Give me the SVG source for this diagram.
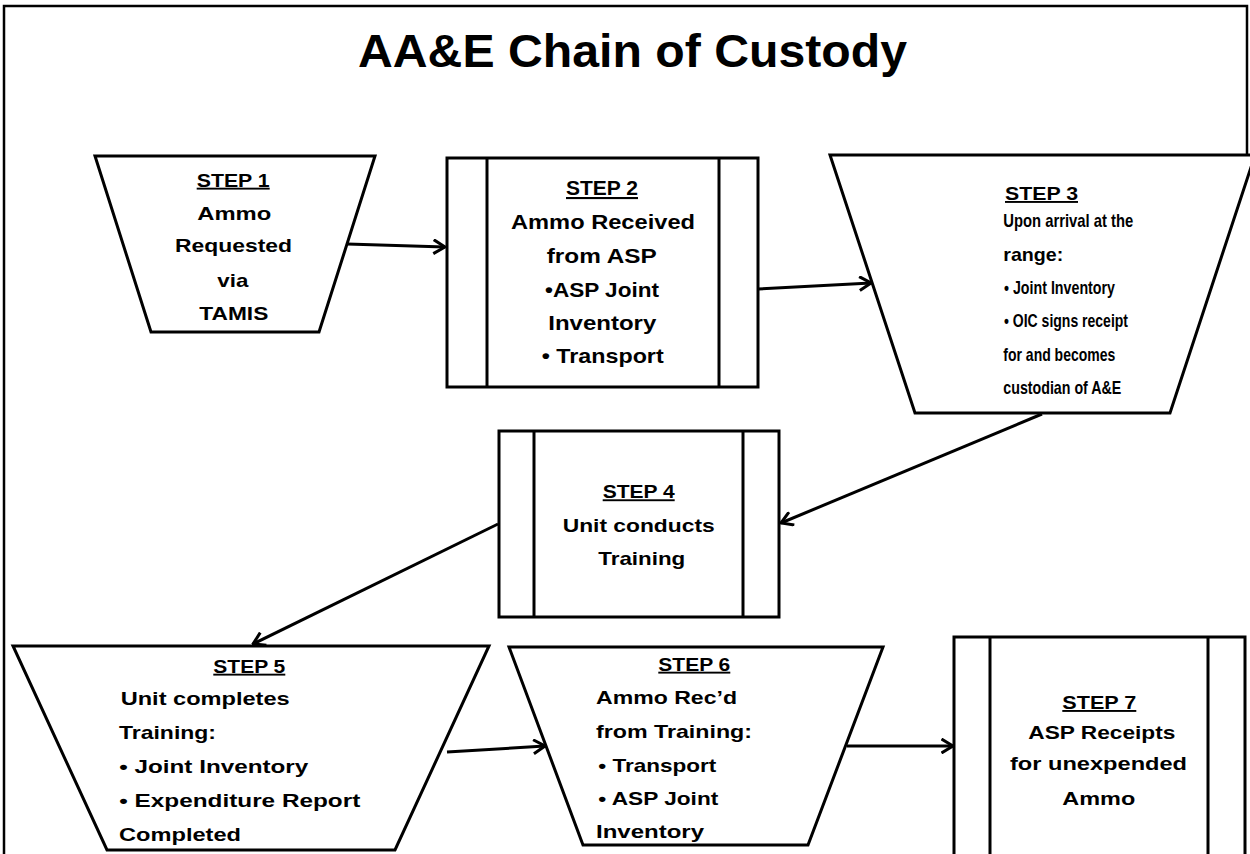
<svg xmlns="http://www.w3.org/2000/svg" width="1250" height="854" viewBox="0 0 1250 854">
<defs>
<style>
.shape{fill:#fff;stroke:#000;stroke-width:3;stroke-linejoin:miter}
.div{stroke:#000;stroke-width:3}
.conn{stroke:#000;stroke-width:3;fill:none}
.t{font-family:"Liberation Sans",Arial,sans-serif;font-weight:bold;font-size:19px;fill:#000}
.t2{font-size:21px}
.u{text-decoration:underline}
.title{font-family:"Liberation Sans",Arial,sans-serif;font-weight:bold;font-size:46px;fill:#000}
</style>
<marker id="arr" markerUnits="userSpaceOnUse" viewBox="0 0 14 16" refX="12.5" refY="8" markerWidth="14" markerHeight="16" orient="auto">
<path d="M1,1 L12.5,8 L1,15" fill="none" stroke="#000" stroke-width="3" stroke-linejoin="miter"/>
</marker>
</defs>
<rect width="1250" height="854" fill="#fff"/>
<path d="M4,860 V6 H1247 V155" fill="none" stroke="#000" stroke-width="2.5"/>
<text class="title" x="632.5" y="67" text-anchor="middle" textLength="549" lengthAdjust="spacingAndGlyphs">AA&amp;E Chain of Custody</text>

<g id="connectors">
<line class="conn" x1="347" y1="244" x2="445" y2="247" marker-end="url(#arr)"/>
<line class="conn" x1="758" y1="289" x2="871" y2="283" marker-end="url(#arr)"/>
<line class="conn" x1="1042" y1="414" x2="781" y2="523" marker-end="url(#arr)"/>
<line class="conn" x1="498" y1="524" x2="253" y2="644" marker-end="url(#arr)"/>
<line class="conn" x1="447" y1="752" x2="545" y2="746" marker-end="url(#arr)"/>
<line class="conn" x1="847" y1="746" x2="953" y2="746" marker-end="url(#arr)"/>
</g>

<g id="step1">
<polygon class="shape" points="95,156 375,156 319,332 151,332"/>
<text class="t u" x="196.7" y="186.7" textLength="73" lengthAdjust="spacingAndGlyphs">STEP 1</text>
<text class="t" x="197.3" y="220" textLength="74" lengthAdjust="spacingAndGlyphs">Ammo</text>
<text class="t" x="175" y="252.3" textLength="117" lengthAdjust="spacingAndGlyphs">Requested</text>
<text class="t" x="217.3" y="286.7" textLength="31" lengthAdjust="spacingAndGlyphs">via</text>
<text class="t" x="199.3" y="320" textLength="69" lengthAdjust="spacingAndGlyphs">TAMIS</text>
</g>

<g id="step2">
<rect class="shape" x="447" y="158" width="311" height="229"/>
<line class="div" x1="487" y1="158" x2="487" y2="387"/>
<line class="div" x1="719" y1="158" x2="719" y2="387"/>
<text class="t t2 u" x="566" y="195" textLength="72" lengthAdjust="spacingAndGlyphs">STEP 2</text>
<text class="t t2" x="511" y="229.3" textLength="184" lengthAdjust="spacingAndGlyphs">Ammo Received</text>
<text class="t t2" x="546.7" y="262.7" textLength="110" lengthAdjust="spacingAndGlyphs">from  ASP</text>
<text class="t t2" x="545" y="296.7" textLength="114" lengthAdjust="spacingAndGlyphs">•ASP Joint</text>
<text class="t t2" x="548.3" y="330" textLength="108" lengthAdjust="spacingAndGlyphs">Inventory</text>
<text class="t t2" x="541.7" y="363.3" textLength="122" lengthAdjust="spacingAndGlyphs">• Transport</text>
</g>

<g id="step3">
<polygon class="shape" points="830,155 1255,155 1170,413 915,413"/>
<text class="t u" x="1005" y="200" textLength="73" lengthAdjust="spacingAndGlyphs">STEP 3</text>
<text class="t" x="1003.3" y="227.3" textLength="130" lengthAdjust="spacingAndGlyphs">Upon arrival at the</text>
<text class="t" x="1003.3" y="260.7" textLength="60" lengthAdjust="spacingAndGlyphs">range:</text>
<text class="t" x="1004" y="294" textLength="111" lengthAdjust="spacingAndGlyphs">• Joint Inventory</text>
<text class="t" x="1004" y="327.3" textLength="124" lengthAdjust="spacingAndGlyphs">• OIC signs receipt</text>
<text class="t" x="1003.3" y="360.7" textLength="112" lengthAdjust="spacingAndGlyphs">for and becomes</text>
<text class="t" x="1003.3" y="394" textLength="118" lengthAdjust="spacingAndGlyphs">custodian of A&amp;E</text>
</g>

<g id="step4">
<rect class="shape" x="499" y="431" width="280" height="186"/>
<line class="div" x1="534" y1="431" x2="534" y2="617"/>
<line class="div" x1="743" y1="431" x2="743" y2="617"/>
<text class="t u" x="602.7" y="498.3" textLength="72" lengthAdjust="spacingAndGlyphs">STEP 4</text>
<text class="t" x="562.7" y="531.7" textLength="152" lengthAdjust="spacingAndGlyphs">Unit conducts</text>
<text class="t" x="598.3" y="565" textLength="87" lengthAdjust="spacingAndGlyphs">Training</text>
</g>

<g id="step5">
<polygon class="shape" points="13,646 489,646 395,850 107,850"/>
<text class="t u" x="213.3" y="672.7" textLength="72" lengthAdjust="spacingAndGlyphs">STEP 5</text>
<text class="t" x="120.7" y="705" textLength="169" lengthAdjust="spacingAndGlyphs">Unit completes</text>
<text class="t" x="119" y="739" textLength="97" lengthAdjust="spacingAndGlyphs">Training:</text>
<text class="t" x="119.3" y="772.7" textLength="189" lengthAdjust="spacingAndGlyphs">• Joint Inventory</text>
<text class="t" x="119.3" y="806.7" textLength="241" lengthAdjust="spacingAndGlyphs">• Expenditure Report</text>
<text class="t" x="119" y="840.7" textLength="122" lengthAdjust="spacingAndGlyphs">Completed</text>
</g>

<g id="step6">
<polygon class="shape" points="509,647 883,647 808,845 583,845"/>
<text class="t u" x="658.3" y="670.7" textLength="72" lengthAdjust="spacingAndGlyphs">STEP 6</text>
<text class="t" x="596" y="704" textLength="141" lengthAdjust="spacingAndGlyphs">Ammo Rec’d</text>
<text class="t" x="596" y="738.3" textLength="156" lengthAdjust="spacingAndGlyphs">from Training:</text>
<text class="t" x="598.3" y="771.7" textLength="118" lengthAdjust="spacingAndGlyphs">• Transport</text>
<text class="t" x="598.3" y="805" textLength="120" lengthAdjust="spacingAndGlyphs">• ASP Joint</text>
<text class="t" x="596" y="838.3" textLength="108" lengthAdjust="spacingAndGlyphs">Inventory</text>
</g>

<g id="step7">
<rect class="shape" x="954" y="637" width="291" height="240"/>
<line class="div" x1="990" y1="637" x2="990" y2="877"/>
<line class="div" x1="1208" y1="637" x2="1208" y2="877"/>
<text class="t u" x="1062.3" y="709" textLength="74" lengthAdjust="spacingAndGlyphs">STEP 7</text>
<text class="t" x="1028.3" y="739.3" textLength="147" lengthAdjust="spacingAndGlyphs">ASP Receipts</text>
<text class="t" x="1010" y="770" textLength="177" lengthAdjust="spacingAndGlyphs">for unexpended</text>
<text class="t" x="1062.3" y="805" textLength="73" lengthAdjust="spacingAndGlyphs">Ammo</text>
</g>
</svg>
